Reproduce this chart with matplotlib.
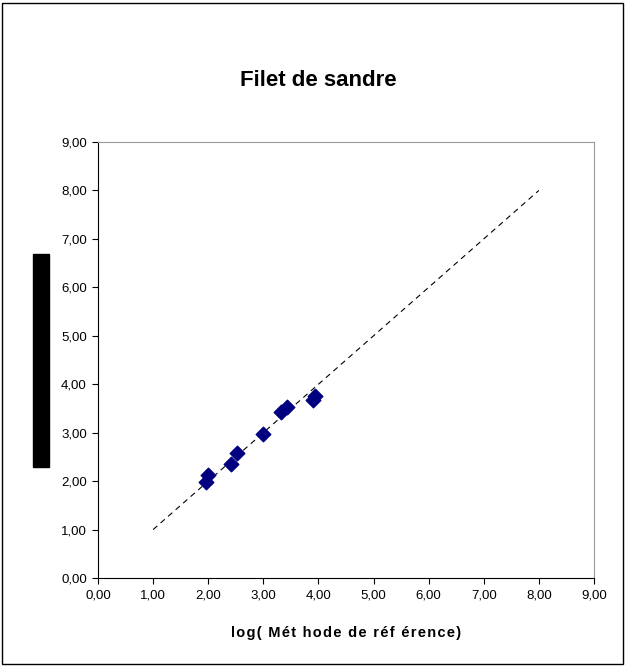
import numpy as np
import matplotlib.pyplot as plt
from matplotlib.patches import Rectangle

plt.rcParams['font.family'] = ['Liberation Sans', 'DejaVu Sans']

# log(reference method) vs log(alternative method), fillet of pike-perch
x_ref = [1.96, 2.00, 2.41, 2.52, 2.99, 3.32, 3.43, 3.90, 3.94]
y_alt = [1.98, 2.13, 2.35, 2.58, 2.97, 3.43, 3.53, 3.67, 3.76]
line_x = [1, 8]
line_y = [1, 8]
ticks = np.arange(0, 10)

fig = plt.figure(figsize=(6.25, 6.66), dpi=100)
ax = fig.add_axes([0.1568, 0.1321, 0.7936, 0.6547])

ax.plot(line_x, line_y, '--', color='black', lw=0.8, dashes=(5, 4))
ax.scatter(x_ref, y_alt, marker='D', s=55, color='#000080', zorder=3)

ax.set_xlim(0, 9)
ax.set_ylim(0, 9)
ax.set_xticks(ticks)
ax.set_yticks(ticks)
ax.set_xticklabels([f'{t:.2f}'.replace('.', ',') for t in ticks], fontsize=9.5)
ax.set_yticklabels([f'{t:.2f}'.replace('.', ',') for t in ticks], fontsize=9.5)
ax.tick_params(direction='out', length=4, width=0.8, pad=4)

for side in ['top', 'right']:
    ax.spines[side].set_color('#999999')
for side in ['left', 'bottom']:
    ax.spines[side].set_color('black')

xlab = '\u200a'.join('log( Mét hode de réf érence)')
ax.set_xlabel(xlab, fontsize=10.5, fontweight='bold', labelpad=18)
fig.text(0.51, 0.879, 'Filet de sandre', fontsize=16, fontweight='bold', ha='center', va='center')

# y label is blacked out in the source
fig.patches.append(Rectangle((0.0528, 0.2988), 0.0256, 0.3198, transform=fig.transFigure,
                             facecolor='black', edgecolor='black'))
fig.text(0.066, 0.458, 'log(Méthode alternative)', rotation=90, fontsize=8,
         fontweight='bold', color='black', ha='center', va='center')

# outer chart frame
fig.patches.append(Rectangle((0.003, 0.003), 0.993, 0.993, transform=fig.transFigure,
                             facecolor='none', edgecolor='black', lw=1))

fig.savefig('out.png', dpi=100)
